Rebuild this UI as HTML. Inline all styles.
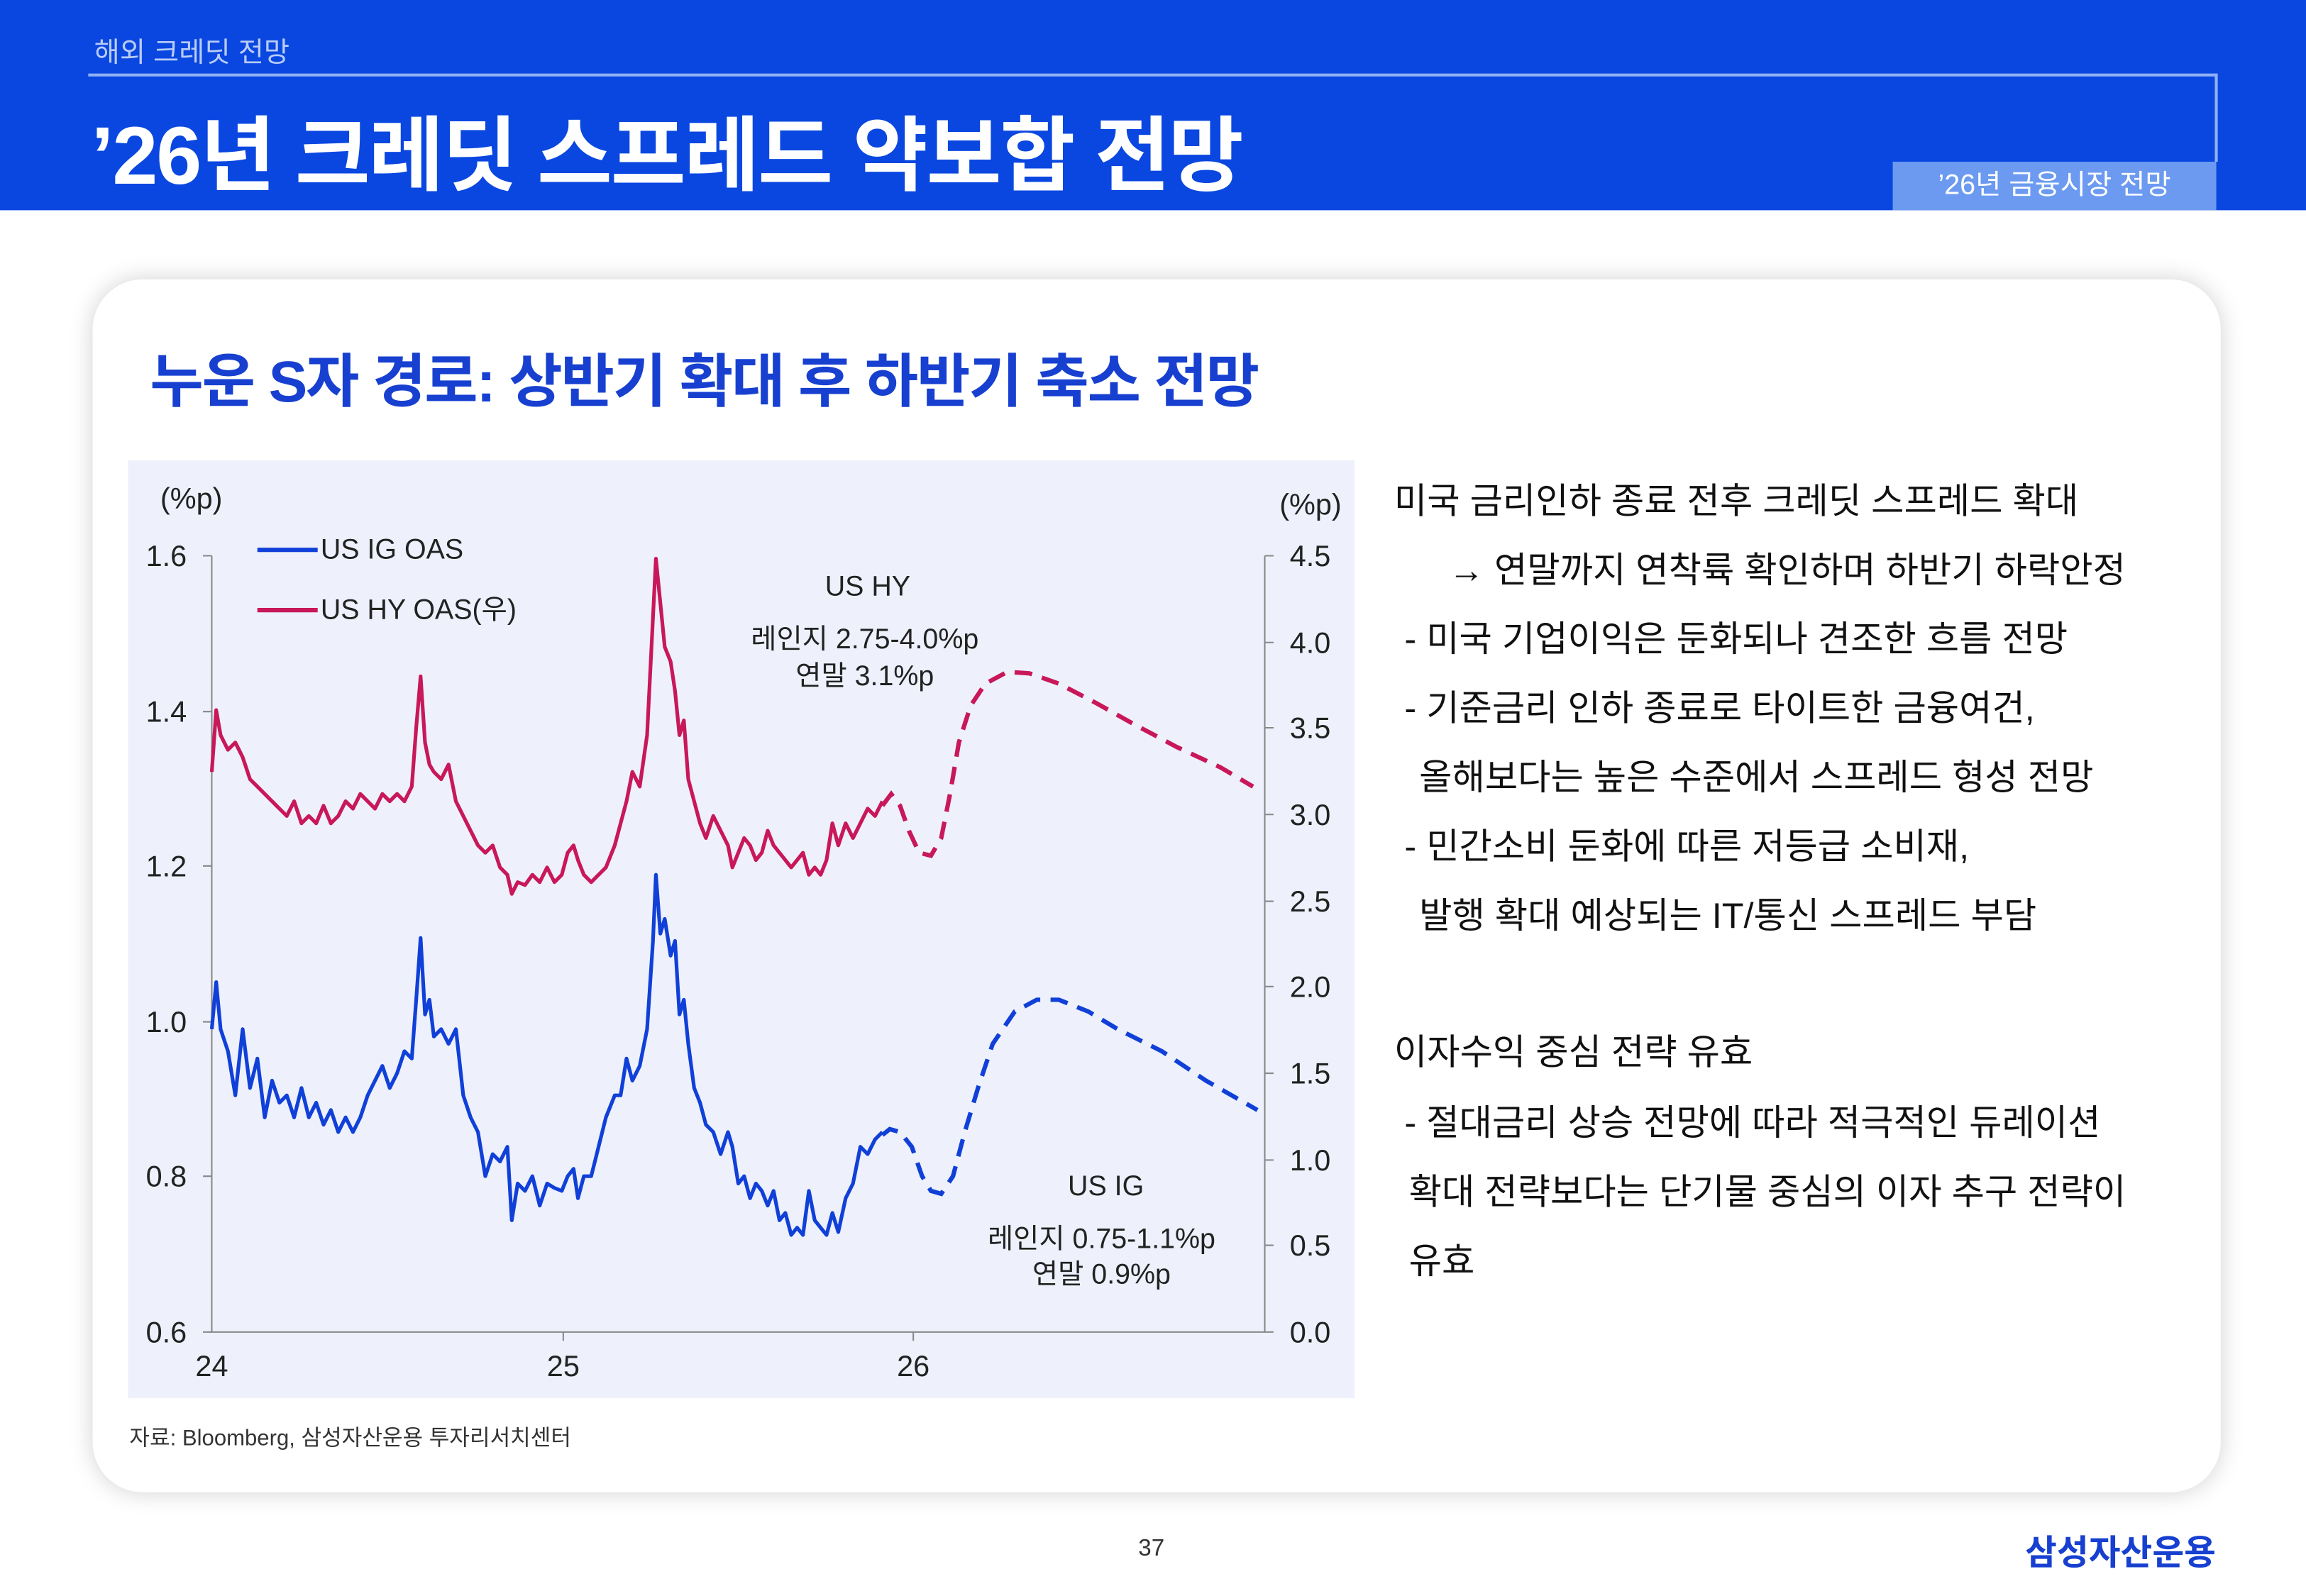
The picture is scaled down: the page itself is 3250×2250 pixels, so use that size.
<!DOCTYPE html>
<html><head><meta charset="utf-8"><style>
body{margin:0;background:#fff;}
#w{width:3250px;height:2250px;overflow:hidden;position:relative;background:#fff}
#s{position:absolute;left:0;top:0;width:1568px;height:1086px;transform:scale(2.07270);transform-origin:0 0;font-family:"Liberation Sans","Noto Sans CJK KR",sans-serif}
.a{position:absolute;white-space:nowrap}
.r{font-size:24.3px;color:#111;left:948px}
</style></head><body><div id="w"><div id="s">
<div class="a" style="left:0;top:0;width:1568px;height:143px;background:#0a47e0"></div>
<div class="a" style="left:60px;top:50px;width:1447px;height:1.5px;background:#8fb0f5"></div>
<div class="a" style="left:1506px;top:50px;width:1.5px;height:60px;background:#8fb0f5"></div>
<div class="a" style="left:64px;top:21px;font-size:19px;color:#b8ccf7">해외 크레딧 전망</div>
<div class="a" style="left:62px;top:61px;font-size:55.5px;font-weight:bold;color:#fff;letter-spacing:-1px">’26년 크레딧 스프레드 약보합 전망</div>
<div class="a" style="left:1287px;top:110px;width:220px;height:33px;background:#6b9af0;color:#fff;font-size:19px;text-align:center;line-height:33px">’26년 금융시장 전망</div>
<div class="a" style="left:63px;top:190px;width:1447px;height:825px;background:#fff;border-radius:34px;box-shadow:0 0 16px rgba(0,0,0,0.18)"></div>
<div class="a" style="left:102px;top:228px;font-size:39.5px;font-weight:bold;color:#1740d0;letter-spacing:-1px">누운 S자 경로: 상반기 확대 후 하반기 축소 전망</div>
<div class="a" style="left:87px;top:313px;width:834px;height:638px;background:#eef1fc"></div>
<svg class="a" style="left:0;top:0" width="1568" height="1086" font-family="Liberation Sans,Noto Sans CJK KR,sans-serif">
<g stroke="#888" stroke-width="1" fill="none">
<path d="M144 378V906H860V378"/>
<path d="M138 378H144M138 484H144M138 589H144M138 695H144M138 800H144M138 906H144"/>
<path d="M860 378H866M860 437H866M860 495H866M860 554H866M860 613H866M860 671H866M860 730H866M860 789H866M860 847H866M860 906H866"/>
<path d="M383 906V912M621 906V912"/>
</g>
<g font-size="20" fill="#222">
<text x="109" y="346">(%p)</text><text x="870" y="350">(%p)</text>
<g text-anchor="end"><text x="127" y="385">1.6</text><text x="127" y="491">1.4</text><text x="127" y="596">1.2</text><text x="127" y="702">1.0</text><text x="127" y="807">0.8</text><text x="127" y="913">0.6</text></g>
<g text-anchor="start"><text x="877" y="385">4.5</text><text x="877" y="444">4.0</text><text x="877" y="502">3.5</text><text x="877" y="561">3.0</text><text x="877" y="620">2.5</text><text x="877" y="678">2.0</text><text x="877" y="737">1.5</text><text x="877" y="796">1.0</text><text x="877" y="854">0.5</text><text x="877" y="913">0.0</text></g>
<g text-anchor="middle"><text x="144" y="936">24</text><text x="383" y="936">25</text><text x="621" y="936">26</text></g>
</g>
<g font-size="19" fill="#222">
<path d="M175 374H216" stroke="#1040d8" stroke-width="3"/><text x="218" y="380">US IG OAS</text>
<path d="M175 415H216" stroke="#c8185a" stroke-width="3"/><text x="218" y="421">US HY OAS(우)</text>
<g text-anchor="middle"><text x="590" y="405">US HY</text><text x="588" y="441">레인지 2.75-4.0%p</text><text x="588" y="466">연말 3.1%p</text>
<text x="752" y="813">US IG</text><text x="749" y="849">레인지 0.75-1.1%p</text><text x="749" y="873">연말 0.9%p</text></g>
</g>
<polyline fill="none" stroke="#1040d8" stroke-width="2.5" stroke-linejoin="round" points="144,700 147,668 150,700 155,715 160,745 165,700 170,740 175,720 180,760 185,735 190,750 195,745 200,760 205,740 210,760 215,750 220,765 225,755 230,770 235,760 240,770 245,760 250,745 255,735 260,725 265,740 270,730 275,715 280,720 283,680 286,638 289,690 292,680 295,705 300,700 305,710 310,700 315,745 320,760 325,770 330,800 335,785 340,790 345,780 348,830 352,805 357,810 362,800 367,820 372,805 377,808 382,810 386,800 390,795 393,815 397,800 402,800 407,780 412,760 418,745 422,745 426,720 430,735 435,725 440,700 444,640 446,595 449,635 452,625 456,650 459,640 462,690 465,680 468,710 472,740 476,750 480,765 485,770 490,785 495,770 498,780 502,805 506,800 510,815 514,805 518,810 522,820 526,810 530,830 534,825 538,840 542,835 546,840 550,810 554,830 558,835 562,840 566,825 570,838 575,815 580,805 585,780 590,785 595,775 600,770"/>
<polyline fill="none" stroke="#1040d8" stroke-width="3" stroke-dasharray="12,7" points="600,772 605,768 612,770 620,780 627,800 633,810 640,812 648,800 656,770 665,740 675,710 690,688 705,680 720,680 740,688 760,700 790,715 820,735 855,755"/>
<polyline fill="none" stroke="#c8185a" stroke-width="2.5" stroke-linejoin="round" points="144,525 147,483 150,500 155,510 160,505 165,515 170,530 175,535 180,540 185,545 190,550 195,555 200,545 205,560 210,555 215,560 220,548 225,560 230,555 235,545 240,550 245,540 250,545 255,550 260,540 265,545 270,540 275,545 280,535 283,495 286,460 289,505 292,520 295,525 300,530 305,520 310,545 315,555 320,565 325,575 330,580 335,575 340,590 345,595 348,608 352,600 357,602 362,595 367,600 372,590 377,600 382,595 386,580 390,575 393,585 397,595 402,600 407,595 412,590 418,575 422,560 426,545 430,525 435,535 440,500 444,420 446,380 449,410 452,440 456,450 459,470 462,500 465,490 468,530 472,545 476,560 480,570 485,555 490,565 495,575 498,590 502,580 506,570 510,575 514,585 518,580 522,565 526,575 530,580 534,585 538,590 542,585 546,580 550,595 554,590 558,595 562,585 566,560 570,575 575,560 580,570 585,560 590,550 595,555 600,545"/>
<polyline fill="none" stroke="#c8185a" stroke-width="3" stroke-dasharray="12,7" points="600,548 606,540 612,548 618,565 625,580 633,582 640,570 646,540 652,505 660,480 670,465 685,457 700,458 720,465 745,478 770,492 800,508 830,522 852,535"/>
</svg>
<div class="a" style="left:88px;top:967px;font-size:15px;color:#333">자료: Bloomberg, 삼성자산운용 투자리서치센터</div>
<div class="a r" style="top:321px">미국 금리인하 종료 전후 크레딧 스프레드 확대</div>
<div class="a r" style="top:368px;left:985px">→ 연말까지 연착륙 확인하며 하반기 하락안정</div>
<div class="a r" style="top:415px;left:955px">- 미국 기업이익은 둔화되나 견조한 흐름 전망</div>
<div class="a r" style="top:462px;left:955px">- 기준금리 인하 종료로 타이트한 금융여건,</div>
<div class="a r" style="top:509px;left:965px">올해보다는 높은 수준에서 스프레드 형성 전망</div>
<div class="a r" style="top:556px;left:955px">- 민간소비 둔화에 따른 저등급 소비재,</div>
<div class="a r" style="top:603px;left:965px">발행 확대 예상되는 IT/통신 스프레드 부담</div>
<div class="a r" style="top:696px">이자수익 중심 전략 유효</div>
<div class="a r" style="top:744px;left:955px">- 절대금리 상승 전망에 따라 적극적인 듀레이션</div>
<div class="a r" style="top:791px;left:958px">확대 전략보다는 단기물 중심의 이자 추구 전략이</div>
<div class="a r" style="top:838px;left:958px">유효</div>
<div class="a" style="left:774px;top:1045px;font-size:16px;color:#333">37</div>
<div class="a" style="left:1377px;top:1037px;font-size:23.5px;font-weight:bold;color:#1740d0">삼성자산운용</div>
</div></div></body></html>
